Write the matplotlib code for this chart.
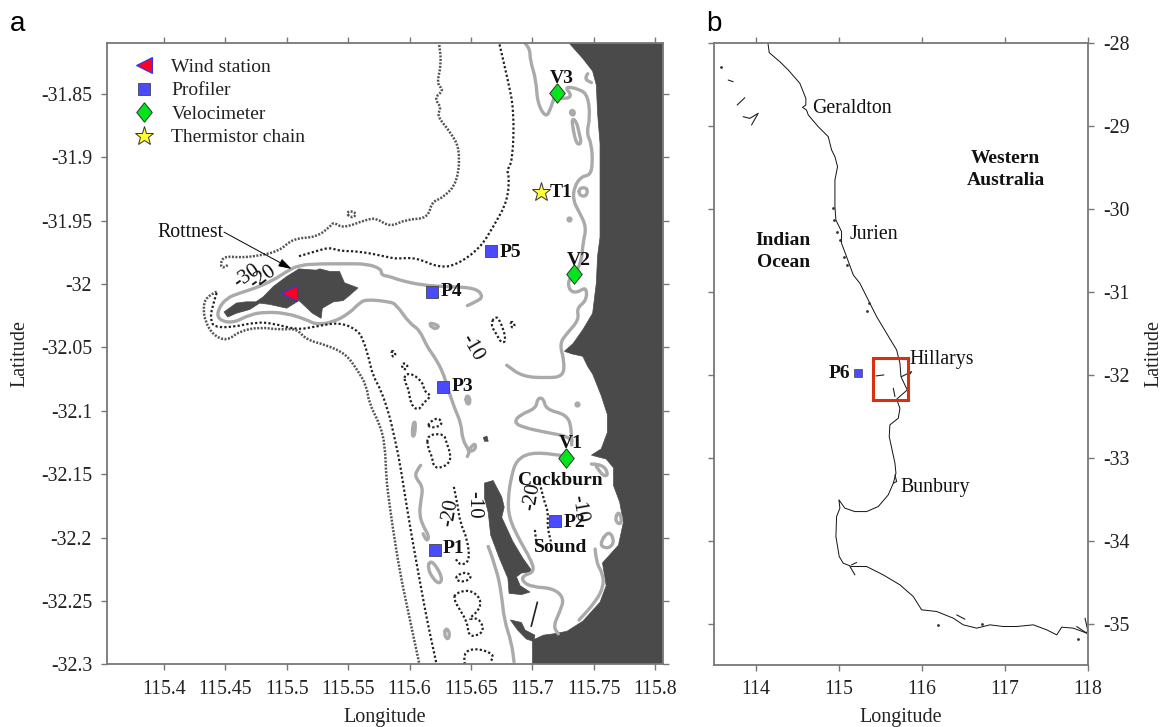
import matplotlib
matplotlib.use('Agg')
import matplotlib.pyplot as plt
from matplotlib.lines import Line2D
from matplotlib.patches import PathPatch, Polygon, Rectangle
from matplotlib.path import Path

plt.rcParams['font.family'] = ['Liberation Serif', 'DejaVu Serif']

# panel a: land polygons (lon, lat)
mainland = [(115.730,-31.810),(115.741,-31.822),(115.749,-31.832),(115.752,-31.843),(115.753,-31.865),(115.755,-31.889),
            (115.755,-31.931),(115.755,-31.963),(115.753,-31.978),(115.752,-31.999),(115.749,-32.023),(115.741,-32.036),
            (115.733,-32.047),(115.726,-32.053),(115.732,-32.055),(115.741,-32.057),(115.745,-32.065),(115.749,-32.071),
            (115.756,-32.088),(115.761,-32.103),(115.761,-32.117),(115.756,-32.130),(115.748,-32.135),(115.760,-32.138),
            (115.766,-32.145),(115.766,-32.159),(115.771,-32.172),(115.774,-32.188),(115.770,-32.206),(115.757,-32.220),
            (115.760,-32.238),(115.755,-32.251),(115.741,-32.266),(115.728,-32.274),(115.717,-32.276),(115.709,-32.277),
            (115.700,-32.281),(115.700,-32.300),(115.806,-32.300),(115.806,-31.810)]
woodman = [(115.682,-32.265),(115.691,-32.267),(115.694,-32.273),(115.702,-32.277),(115.701,-32.282),(115.695,-32.280),
           (115.688,-32.273),(115.685,-32.269)]
garden = [(115.661,-32.157),(115.668,-32.155),(115.675,-32.168),(115.677,-32.176),(115.675,-32.184),(115.684,-32.203),
          (115.692,-32.216),(115.700,-32.227),(115.691,-32.228),(115.687,-32.231),(115.690,-32.238),(115.698,-32.243),
          (115.691,-32.245),(115.681,-32.244),(115.680,-32.232),(115.673,-32.216),(115.666,-32.198),(115.664,-32.180),
          (115.661,-32.169)]
rottnest = [(115.449,-32.022),(115.459,-32.015),(115.467,-32.014),(115.475,-32.014),(115.481,-32.010),(115.489,-32.002),
            (115.500,-31.994),(115.510,-31.988),(115.524,-31.989),(115.527,-31.988),(115.535,-31.990),(115.543,-31.990),
            (115.547,-31.999),(115.558,-32.003),(115.551,-32.009),(115.546,-32.013),(115.538,-32.014),(115.529,-32.019),
            (115.528,-32.027),(115.521,-32.023),(115.510,-32.013),(115.500,-32.019),(115.486,-32.016),(115.478,-32.015),
            (115.470,-32.020),(115.459,-32.023),(115.452,-32.026)]
carnac = [(115.660,-32.121),(115.663,-32.120),(115.664,-32.124),(115.661,-32.124)]

# -10 m contour pieces
grey_rottnest = [(115.647,-32.017),(115.654,-32.014),(115.660,-32.010),(115.654,-32.003),(115.630,-32.002),(115.611,-32.001),
                 (115.592,-31.997),(115.584,-31.994),(115.577,-31.993),(115.577,-31.988),(115.565,-31.984),(115.548,-31.984),
                 (115.527,-31.984),(115.510,-31.985),(115.500,-31.990),(115.489,-31.997),(115.475,-32.003),(115.462,-32.007),
                 (115.451,-32.011),(115.444,-32.020),(115.444,-32.028),(115.456,-32.031),(115.470,-32.024),(115.483,-32.022),
                 (115.500,-32.023),(115.516,-32.028),(115.524,-32.032),(115.538,-32.030),(115.551,-32.023),(115.559,-32.015),
                 (115.565,-32.012),(115.584,-32.014),(115.589,-32.016),(115.600,-32.031),(115.608,-32.036),(115.614,-32.049),
                 (115.620,-32.057),(115.627,-32.069),(115.631,-32.082),(115.637,-32.099),(115.642,-32.110),(115.643,-32.123),
                 (115.649,-32.132),(115.647,-32.136)]
grey_hook = [(115.648,-32.131),(115.652,-32.126),(115.654,-32.127),(115.653,-32.131),(115.649,-32.132)]
grey_north = [(115.694,-31.810),(115.698,-31.814),(115.698,-31.823),(115.703,-31.839),(115.704,-31.857),(115.711,-31.869),
              (115.715,-31.861),(115.719,-31.849)]
grey_coast = [(115.722,-31.853),(115.728,-31.854),(115.732,-31.851),(115.726,-31.844),(115.738,-31.846),(115.745,-31.851),
              (115.747,-31.868),(115.744,-31.881),(115.748,-31.889),(115.749,-31.905),(115.747,-31.914),(115.740,-31.915),
              (115.734,-31.923),(115.733,-31.934),(115.738,-31.943),(115.744,-31.955),(115.741,-31.968),(115.740,-31.982),
              (115.734,-31.993),(115.729,-31.997),(115.730,-32.005),(115.736,-32.007),(115.744,-32.002),(115.744,-32.013),
              (115.736,-32.019),(115.738,-32.028),(115.728,-32.039),(115.722,-32.047),(115.726,-32.061),(115.725,-32.073),
              (115.711,-32.074),(115.692,-32.073),(115.679,-32.064)]
grey_cockburn = [(115.728,-32.136),(115.717,-32.134),(115.698,-32.133),(115.687,-32.139),(115.683,-32.151),(115.680,-32.169),
                 (115.681,-32.185),(115.690,-32.203),(115.698,-32.216),(115.702,-32.227),(115.692,-32.230),(115.692,-32.235),
                 (115.700,-32.239),(115.717,-32.240),(115.726,-32.248),(115.722,-32.259),(115.717,-32.270),(115.721,-32.276)]
grey_bank = [(115.732,-32.127),(115.732,-32.114),(115.728,-32.103),(115.711,-32.099),(115.709,-32.090),(115.704,-32.090),
             (115.703,-32.098),(115.690,-32.103),(115.685,-32.109),(115.692,-32.113),(115.711,-32.117),(115.728,-32.120),
             (115.732,-32.124)]
grey_south = [(115.751,-32.209),(115.752,-32.220),(115.757,-32.228),(115.758,-32.238),(115.752,-32.250),(115.738,-32.265)]
grey_west = [(115.609,-32.143),(115.605,-32.148),(115.605,-32.153),(115.611,-32.160),(115.609,-32.172),(115.608,-32.182),
             (115.611,-32.191),(115.616,-32.199),(115.614,-32.203),(115.611,-32.197)]
grey_shoal = [(115.664,-32.207),(115.671,-32.225),(115.675,-32.246),(115.677,-32.265),(115.683,-32.283),(115.685,-32.298)]
grey_curl = [(115.745,-31.834),(115.742,-31.838),(115.748,-31.841)]
grey_east = [(115.748,-32.142),(115.757,-32.142),(115.762,-32.150),(115.758,-32.152),(115.752,-32.144)]
grey_loops = [[(115.731,-31.863),(115.734,-31.863),(115.734,-31.867),(115.731,-31.866)],
              [(115.732,-31.869),(115.733,-31.878),(115.736,-31.890),(115.740,-31.889),(115.738,-31.881),(115.736,-31.872)],
              [(115.738,-31.924),(115.745,-31.924),(115.744,-31.931),(115.738,-31.930)],
              [(115.615,-32.030),(115.625,-32.033),(115.620,-32.036)],
              [(115.770,-32.179),(115.773,-32.186),(115.771,-32.190),(115.767,-32.186)],
              [(115.762,-32.194),(115.767,-32.203),(115.762,-32.209),(115.754,-32.206)],
              [(115.603,-32.109),(115.605,-32.109),(115.604,-32.120),(115.602,-32.120)],
              [(115.646,-32.088),(115.649,-32.089),(115.649,-32.095),(115.646,-32.094)],
              [(115.616,-32.219),(115.620,-32.220),(115.627,-32.232),(115.624,-32.237),(115.618,-32.231),(115.615,-32.224)],
              [(115.630,-32.271),(115.633,-32.276),(115.631,-32.281),(115.628,-32.276)]]
grey_dots_lon = [115.730, 115.736]
grey_dots_lat = [-31.949, -32.095]

# -20 m contour pieces
black_north = [(115.510,-31.978),(115.524,-31.974),(115.535,-31.971),(115.543,-31.974),(115.559,-31.974),(115.584,-31.979),
               (115.589,-31.980),(115.605,-31.979),(115.624,-31.987),(115.638,-31.985),(115.657,-31.972),(115.668,-31.955),
               (115.680,-31.934),(115.681,-31.913),(115.679,-31.911),(115.684,-31.902),(115.685,-31.863),(115.680,-31.839),
               (115.673,-31.810)]
black_west = [(115.443,-32.007),(115.439,-32.019),(115.438,-32.028),(115.441,-32.034),(115.456,-32.034),(115.475,-32.030),
              (115.489,-32.031),(115.508,-32.036),(115.521,-32.034),(115.543,-32.030),(115.557,-32.036),(115.562,-32.043),
              (115.567,-32.059),(115.570,-32.072),(115.577,-32.084),(115.584,-32.105),(115.586,-32.114),(115.591,-32.135),
              (115.595,-32.159),(115.601,-32.195),(115.609,-32.238),(115.615,-32.269),(115.622,-32.300)]
black_chain = [(115.636,-32.160),(115.639,-32.173),(115.641,-32.188),(115.647,-32.201),(115.649,-32.219),(115.641,-32.222),
               (115.637,-32.216)]
black_sound = [(115.706,-32.157),(115.709,-32.170),(115.713,-32.180),(115.712,-32.191),(115.715,-32.203)]
black_sound2 = [(115.702,-32.194),(115.703,-32.203)]
black_bottom = [(115.645,-32.300),(115.643,-32.291),(115.654,-32.287),(115.669,-32.292),(115.666,-32.298)]
black_loops = [[(115.669,-32.026),(115.673,-32.027),(115.679,-32.044),(115.675,-32.047),(115.671,-32.040),(115.666,-32.032)],
               [(115.683,-32.029),(115.686,-32.032),(115.684,-32.035),(115.682,-32.032)],
               [(115.586,-32.052),(115.589,-32.055),(115.587,-32.058),(115.585,-32.055)],
               [(115.593,-32.064),(115.596,-32.062),(115.599,-32.065),(115.596,-32.068)],
               [(115.596,-32.071),(115.603,-32.071),(115.611,-32.078),(115.612,-32.085),(115.618,-32.088),(115.612,-32.093),
                (115.607,-32.100),(115.601,-32.095),(115.599,-32.082),(115.596,-32.077)],
               [(115.615,-32.110),(115.623,-32.105),(115.627,-32.110),(115.622,-32.113),(115.616,-32.113)],
               [(115.614,-32.119),(115.628,-32.118),(115.630,-32.125),(115.634,-32.136),(115.631,-32.143),(115.620,-32.146),
                (115.618,-32.135),(115.615,-32.130)],
               [(115.638,-32.230),(115.646,-32.227),(115.651,-32.231),(115.645,-32.235),(115.638,-32.234)],
               [(115.637,-32.244),(115.649,-32.241),(115.658,-32.248),(115.657,-32.257),(115.647,-32.265),(115.656,-32.263),
                (115.661,-32.273),(115.654,-32.278),(115.648,-32.277),(115.647,-32.267),(115.641,-32.257),(115.636,-32.249)]]

# -30 m contour pieces
dark_west = [(115.443,-32.006),(115.434,-32.010),(115.432,-32.020),(115.434,-32.030),(115.440,-32.040),(115.451,-32.045),
             (115.462,-32.037),(115.478,-32.034),(115.494,-32.036),(115.508,-32.035),(115.516,-32.044),(115.532,-32.048),
             (115.548,-32.055),(115.557,-32.067),(115.565,-32.080),(115.567,-32.094),(115.576,-32.111),(115.580,-32.127),
             (115.581,-32.153),(115.583,-32.169),(115.586,-32.190),(115.592,-32.227),(115.599,-32.259),(115.608,-32.300)]
dark_north = [(115.452,-31.985),(115.448,-31.988),(115.446,-31.984),(115.449,-31.978),(115.462,-31.979),(115.475,-31.978),
              (115.494,-31.974),(115.505,-31.964),(115.524,-31.963),(115.535,-31.955),(115.538,-31.951),(115.546,-31.956),
              (115.565,-31.949),(115.573,-31.948),(115.584,-31.955),(115.597,-31.949),(115.615,-31.948),(115.618,-31.935),
              (115.627,-31.932),(115.639,-31.920),(115.641,-31.894),(115.634,-31.881),(115.622,-31.867),(115.626,-31.861),
              (115.620,-31.853),(115.628,-31.847),(115.622,-31.842),(115.626,-31.826),(115.624,-31.810)]
dark_ring = [(115.548,-31.944),(115.553,-31.942),(115.557,-31.945),(115.553,-31.948)]

jetty = [(115.704,-32.251),(115.699,-32.270)]

# stations
wind_lon, wind_lat = [115.502], [-32.007]
profiler_names = ['P1', 'P2', 'P3', 'P4', 'P5']
profiler_lon = [115.621, 115.718, 115.627, 115.618, 115.666]
profiler_lat = [-32.210, -32.187, -32.081, -32.006, -31.974]
velo_names = ['V1', 'V2', 'V3']
velo_lon = [115.727, 115.734, 115.720]
velo_lat = [-32.137, -31.992, -31.849]
chain_lon, chain_lat = [115.707], [-31.927]

# panel b: coast (lon, lat)
wa_coast = [(114.149,-28.000),(114.165,-28.120),(114.293,-28.229),(114.394,-28.329),(114.534,-28.490),(114.606,-28.671),
            (114.606,-28.751),(114.566,-28.779),(114.614,-28.811),(114.635,-28.871),(114.755,-29.012),(114.876,-29.133),
            (114.916,-29.293),(114.956,-29.373),(114.988,-29.494),(114.956,-29.655),(114.956,-29.976),(114.968,-30.137),
            (115.036,-30.277),(115.036,-30.418),(115.096,-30.578),(115.177,-30.799),(115.257,-30.900),(115.357,-31.100),
            (115.458,-31.301),(115.578,-31.502),(115.699,-31.703),(115.739,-31.863),(115.751,-32.024),(115.827,-32.185),
            (115.699,-32.297),(115.739,-32.406),(115.719,-32.526),(115.618,-32.606),(115.610,-32.747),(115.679,-33.068),
            (115.691,-33.189),(115.659,-33.309),(115.598,-33.450),(115.478,-33.590),(115.337,-33.651),(115.197,-33.651),
            (115.076,-33.610),(115.004,-33.510),(115.016,-33.610),(114.976,-33.711),(114.968,-33.952),(115.008,-34.193),
            (115.056,-34.273),(115.157,-34.313),(115.337,-34.313),(115.538,-34.414),(115.739,-34.534),(115.900,-34.675),
            (116.000,-34.835),(116.181,-34.855),(116.382,-34.936),(116.502,-35.016),(116.663,-35.056),(116.823,-35.016),
            (116.984,-35.036),(117.145,-35.036),(117.345,-35.016),(117.506,-35.076),(117.627,-35.137),(117.687,-35.044),
            (117.827,-35.056),(117.988,-35.116),(118.000,-35.080)]
coast_bits = [[(113.671,-28.450),(113.731,-28.470)],
              [(113.779,-28.751),(113.871,-28.663)],
              [(113.851,-28.892),(113.932,-28.912),(114.032,-28.851),(113.952,-28.992)],
              [(115.450,-32.016),(115.546,-32.004)],
              [(115.759,-32.024),(115.880,-31.964),(115.840,-32.020)],
              [(115.659,-32.165),(115.679,-32.265)],
              [(115.679,-33.209),(115.699,-33.289),(115.659,-33.309)],
              [(115.157,-34.293),(115.217,-34.265)],
              [(115.137,-34.313),(115.197,-34.414)],
              [(116.422,-34.896),(116.522,-34.948)],
              [(117.867,-35.036),(117.988,-35.116)],
              [(117.968,-34.936),(118.000,-35.080)]]
islet_lon = [113.590, 114.936, 114.944, 114.984, 115.016, 115.064, 115.104, 115.365, 115.337, 116.723, 116.201, 117.888]
islet_lat = [-28.297, -29.996, -30.137, -30.277, -30.378, -30.578, -30.679, -31.133, -31.229, -35.004, -35.016, -35.185]
box_lon = [115.41, 115.839]
box_lat = [-32.305, -31.803]
p6_lon, p6_lat = [115.236], [-31.983]

xticks_a = [115.4, 115.45, 115.5, 115.55, 115.6, 115.65, 115.7, 115.75, 115.8]
xlabels_a = ['115.4', '115.45', '115.5', '115.55', '115.6', '115.65', '115.7', '115.75', '115.8']
yticks_a = [-31.85, -31.9, -31.95, -32, -32.05, -32.1, -32.15, -32.2, -32.25, -32.3]
ylabels_a = ['-31.85', '-31.9', '-31.95', '-32', '-32.05', '-32.1', '-32.15', '-32.2', '-32.25', '-32.3']
xticks_b = [114, 115, 116, 117, 118]
yticks_b = [-28, -29, -30, -31, -32, -33, -34, -35]

LAND = '#4a4a4a'
GREY = '#aaaaaa'
BLUE = '#4a4aff'
GREEN = '#00e61a'
YELLOW = '#ffff33'
diamond = [(0, 1), (0.8, 0), (0, -1), (-0.8, 0), (0, 1)]
W, H = 1164, 727


def draw_line(ax, pts, **kw):
    ax.plot([p[0] for p in pts], [p[1] for p in pts], solid_joinstyle='round', solid_capstyle='round', **kw)


def smooth_line(ax, pts, closed=False, **kw):
    # quadratic curves through the midpoints, the contours in the figure are rounded
    mid = [((a[0] + b[0]) / 2, (a[1] + b[1]) / 2) for a, b in zip(pts, pts[1:] + pts[:1])]
    if closed:
        verts = [mid[-1]]
        for p, m in zip(pts, mid):
            verts += [p, m]
        codes = [Path.MOVETO] + [Path.CURVE3] * (len(verts) - 1)
    else:
        verts = [pts[0]]
        for p, m in zip(pts[1:-1], mid[1:-1]):
            verts += [p, m]
        codes = [Path.MOVETO] + [Path.CURVE3] * (len(verts) - 1)
        if len(pts) > 2:
            verts.append(pts[-1])
            codes.append(Path.LINETO)
        else:
            verts, codes = pts, [Path.MOVETO, Path.LINETO]
    ax.add_patch(PathPatch(Path(verts, codes), fill=False, **kw))


fig = plt.figure(figsize=(W / 100, H / 100), dpi=100)
ax = fig.add_axes([107.3 / W, 1 - 664.3 / H, 555.4 / W, 621 / H])
axb = fig.add_axes([714 / W, 1 - 665 / H, 373.7 / W, 622.3 / H])

# panel a
for poly in [mainland, woodman, garden, rottnest, carnac]:
    ax.add_patch(Polygon(poly, closed=True, facecolor=LAND, edgecolor=LAND, lw=0.5, zorder=1))

grey_kw = dict(edgecolor=GREY, lw=2.4, zorder=2, capstyle='round', joinstyle='round')
for piece in [grey_rottnest, grey_hook, grey_north, grey_coast, grey_cockburn, grey_bank, grey_south, grey_west,
              grey_shoal, grey_curl, grey_east]:
    smooth_line(ax, piece, **grey_kw)
for piece in grey_loops:
    smooth_line(ax, piece, closed=True, **grey_kw)
ax.plot(grey_dots_lon, grey_dots_lat, 'o', color=GREY, ms=3.5, zorder=2)

black_kw = dict(edgecolor='#222222', lw=1.6, ls=(0, (1, 1)), zorder=2)
for piece in [black_north, black_west, black_chain, black_sound, black_sound2, black_bottom]:
    smooth_line(ax, piece, **black_kw)
for piece in black_loops:
    smooth_line(ax, piece, closed=True, **black_kw)

dark_kw = dict(edgecolor='#555555', lw=1.8, ls=(0, (0.8, 0.6)), zorder=2)
for piece in [dark_west, dark_north]:
    smooth_line(ax, piece, **dark_kw)
smooth_line(ax, dark_ring, closed=True, **dark_kw)
draw_line(ax, jetty, color='#222222', lw=1.2, zorder=2)

ax.plot(wind_lon, wind_lat, '<', color='#ff0022', mec='#3333ee', mew=0.8, ms=11, zorder=4)
ax.plot(profiler_lon, profiler_lat, 's', color=BLUE, mec='#444444', mew=0.6, ms=8, zorder=4)
ax.plot(velo_lon, velo_lat, marker=diamond, ls='none', color=GREEN, mec='#333333', mew=0.7, ms=14, zorder=4)
ax.plot(chain_lon, chain_lat, '*', color=YELLOW, mec='#333333', mew=0.7, ms=14, zorder=4)

bold = dict(fontsize=14, fontweight='bold', color='#111111', zorder=5)
ax.text(115.627, -32.209, 'P1', ha='left', va='center', **bold)
ax.text(115.725, -32.188, 'P2', ha='left', va='center', **bold)
ax.text(115.634, -32.081, 'P3', ha='left', va='center', **bold)
ax.text(115.625, -32.006, 'P4', ha='left', va='center', **bold)
ax.text(115.673, -31.975, 'P5', ha='left', va='center', **bold)
ax.text(115.731, -32.126, 'V1', ha='center', va='center', **bold)
ax.text(115.738, -31.981, 'V2', ha='center', va='center', **bold)
ax.text(115.724, -31.838, 'V3', ha='center', va='center', **bold)
ax.text(115.714, -31.928, 'T1', ha='left', va='center', **bold)
ax.text(115.723, -32.155, 'Cockburn', ha='center', va='center', **bold)
ax.text(115.723, -32.208, 'Sound', ha='center', va='center', **bold)

contour = dict(fontsize=15, color='#111111', ha='center', va='center', zorder=3)
ax.text(115.651, -32.050, '-10', rotation=-60, **contour)
ax.text(115.468, -31.994, '-30', rotation=35, **contour)
ax.text(115.481, -31.995, '-20', rotation=35, **contour)
ax.text(115.700, -32.168, '-20', rotation=80, **contour)
ax.text(115.738, -32.177, '-10', rotation=-80, **contour)
ax.text(115.633, -32.180, '-20', rotation=80, **contour)
ax.text(115.652, -32.174, '-10', rotation=-90, **contour)

ax.text(115.422, -31.959, 'Rottnest', fontsize=14.3, color='#111111', ha='center', va='center', zorder=5)
ax.annotate('', xy=(115.504, -31.988), xytext=(115.449, -31.959), zorder=5,
            arrowprops=dict(arrowstyle='-|>,head_length=0.8,head_width=0.25', color='black', lw=0.7, shrinkA=0, shrinkB=0))

handles = [Line2D([], [], marker='<', ls='none', color='#ff0022', mec='#3333ee', mew=0.8, ms=11),
           Line2D([], [], marker='s', ls='none', color=BLUE, mec='#444444', mew=0.6, ms=8),
           Line2D([], [], marker=diamond, ls='none', color=GREEN, mec='#333333', mew=0.7, ms=14),
           Line2D([], [], marker='*', ls='none', color=YELLOW, mec='#333333', mew=0.7, ms=14)]
ax.legend(handles, ['Wind station', 'Profiler', 'Velocimeter', 'Thermistor chain'], loc='upper left',
          bbox_to_anchor=(0.0245, 0.982), frameon=False, fontsize=14, labelspacing=0.3, handletextpad=0.4,
          handlelength=2, borderaxespad=0, borderpad=0.2, labelcolor='#222222')

ax.set_xlim(115.354, 115.806)
ax.set_ylim(-32.3, -31.81)
ax.set_xticks(xticks_a, xlabels_a)
ax.set_yticks(yticks_a, ylabels_a)
ax.set_xlabel('Longitude', fontsize=14.5, labelpad=6.5, color='#222222')
ax.set_ylabel('Latitude', fontsize=14.5, labelpad=8, color='#222222')

# panel b
draw_line(axb, wa_coast, color='#111111', lw=0.7, zorder=2)
for piece in coast_bits:
    draw_line(axb, piece, color='#222222', lw=0.8, zorder=2)
axb.plot(islet_lon, islet_lat, '.', color='#333333', ms=2, zorder=2)
axb.add_patch(Rectangle((box_lon[0], box_lat[0]), box_lon[1] - box_lon[0], box_lat[1] - box_lat[0],
                        fill=False, edgecolor='#d9300f', lw=2.2, zorder=3))
axb.plot(p6_lon, p6_lat, 's', color=BLUE, mec='#444444', mew=0.5, ms=5.5, zorder=4)

place = dict(fontsize=14.3, color='#111111', ha='left', va='center')
axb.text(114.687, -28.791, 'Geraldton', **place)
axb.text(115.129, -30.309, 'Jurien', **place)
axb.text(115.859, -31.823, 'Hillarys', **place)
axb.text(115.747, -33.361, 'Bunbury', **place)
axb.text(115.145, -31.992, 'P6', ha='right', va='center', **bold)
axb.text(114.333, -30.518, 'Indian\nOcean', ha='center', va='center', multialignment='center', linespacing=1.35, **bold)
axb.text(117.01, -29.53, 'Western\nAustralia', ha='center', va='center', multialignment='center', linespacing=1.35, **bold)

axb.set_xlim(113.5, 118)
axb.set_ylim(-35.5, -28)
axb.set_xticks(xticks_b, [str(t) for t in xticks_b])
axb.set_yticks(yticks_b, [str(t) for t in yticks_b])
axb.yaxis.set_label_position('right')
axb.set_xlabel('Longitude', fontsize=14.5, labelpad=6.5, color='#222222')
axb.set_ylabel('Latitude', fontsize=14.5, labelpad=11, color='#222222')

for a in [ax, axb]:
    for s in a.spines.values():
        s.set_color('#777777')
        s.set_linewidth(1.3)
    a.tick_params(direction='out', top=True, right=True, length=4.5, width=1, color='#777777', labelsize=14.3,
                  labelcolor='#222222', pad=6.5)
axb.tick_params(labelleft=False, labelright=True)

fig.text(10 / W, 1 - 24 / H, 'a', fontsize=20, family='Liberation Sans', va='center')
fig.text(706 / W, 1 - 24 / H, 'b', fontsize=20, family='Liberation Sans', va='center')

fig.savefig('out.png', dpi=100)
